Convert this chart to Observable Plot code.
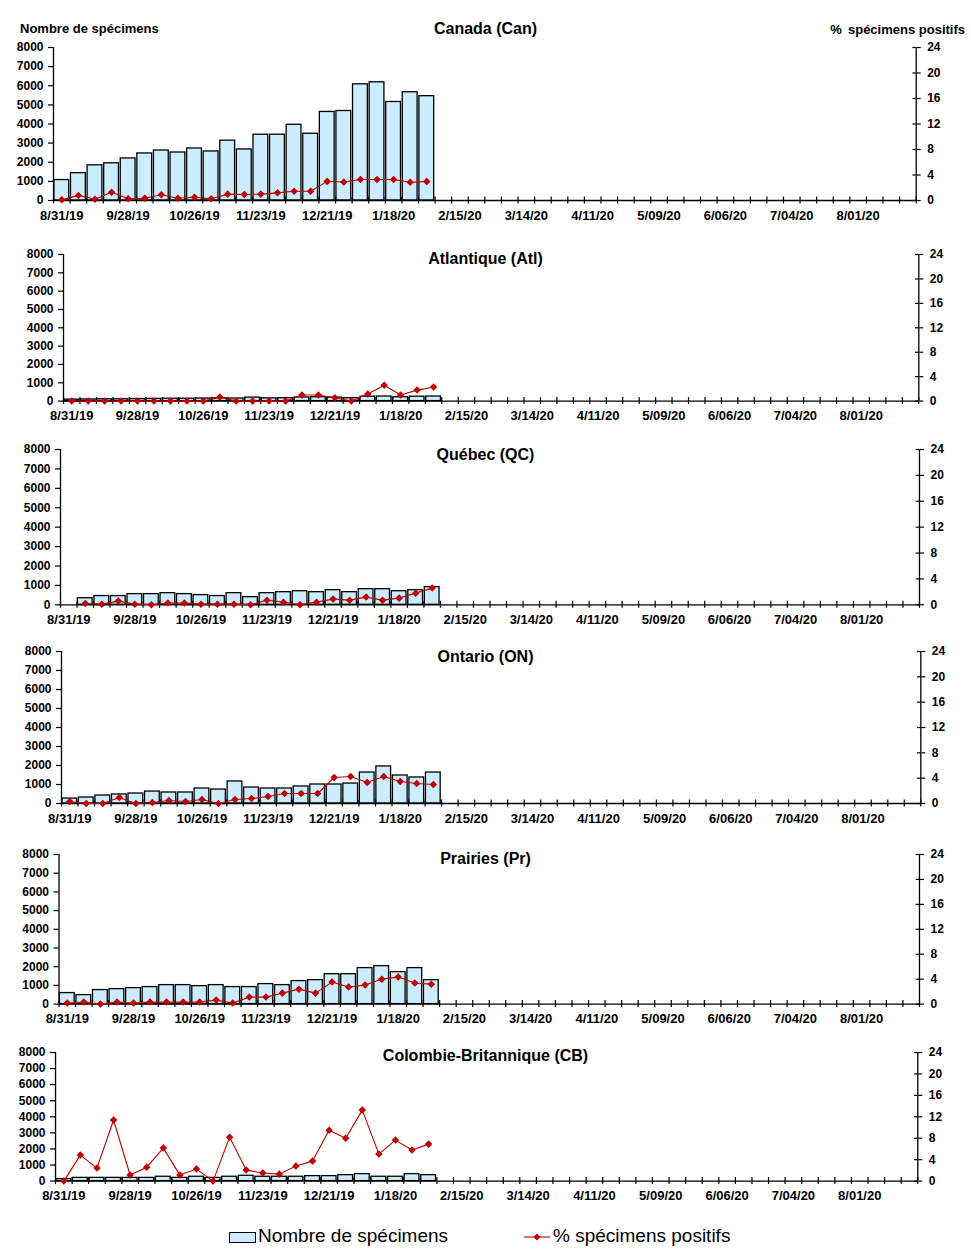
<!DOCTYPE html>
<html>
<head>
<meta charset="utf-8">
<script src="https://cdn.jsdelivr.net/npm/d3@7"></script>
<script src="https://cdn.jsdelivr.net/npm/@observablehq/plot@0.6"></script>
<style>
  html, body { margin: 0; padding: 0; background: #fff; }
  #root { position: relative; width: 971px; height: 1258px; font-family: "Liberation Sans", Arial, sans-serif; color: #000; }
  .abs { position: absolute; white-space: nowrap; }
  .title { left: 0; width: 971px; text-align: center; font-weight: bold; font-size: 16px; }
  .axlab { font-weight: bold; font-size: 13px; }
  .leg { font-size: 19px; }
</style>
</head>
<body>
<div id="root"></div>
<script>
// ---- Data ----
const nWeeks = 52;
const tickLabels = ["8/31/19","9/28/19","10/26/19","11/23/19","12/21/19","1/18/20","2/15/20","3/14/20","4/11/20","5/09/20","6/06/20","7/04/20","8/01/20"];
const pctTicks = [0, 4, 8, 12, 16, 20, 24];
const countTicks = [0, 1000, 2000, 3000, 4000, 5000, 6000, 7000, 8000];

const regionTitles = ["Canada (Can)", "Atlantique (Atl)", "Québec (QC)", "Ontario (ON)", "Prairies (Pr)", "Colombie-Britannique (CB)"];

const canCount = [1070,1430,1840,1945,2200,2460,2615,2510,2720,2565,3130,2670,3440,3440,3960,3490,4630,4680,6075,6180,5150,5660,5455];
const canPct   = [0.1,0.8,0.2,1.3,0.26,0.36,0.9,0.36,0.5,0.26,1.0,0.93,1.0,1.2,1.45,1.45,3.0,2.9,3.3,3.3,3.3,2.85,3.0];

const atlCount = [80,90,100,100,110,120,130,130,140,150,140,190,150,160,200,210,190,160,240,250,210,240,250];
const atlPct   = [0,0,0,0,0,0,0,0,0,0.65,0,0,0,0,1.0,1.0,0.55,0,1.15,2.6,1.0,1.8,2.3];

const qcCount = [null,340,450,450,550,550,600,550,500,450,600,395,600,650,700,650,755,650,805,805,700,755,910];
const qcPct   = [null,0.2,0.1,0.57,0.1,0,0.26,0.26,0.1,0.1,0.1,0,0.72,0.41,0,0.41,0.88,0.72,1.19,0.72,1.03,1.8,2.58];

const onCount = [260,315,420,475,525,630,580,580,790,735,1160,840,790,790,895,1000,1000,1050,1630,1950,1475,1370,1630];
const onPct   = [0.32,0,0,0.95,0,0.16,0.47,0.32,0.63,0,0.63,0.79,1.1,1.58,1.58,1.58,4.1,4.26,3.3,4.26,3.47,3.16,3.0];

const prCount = [590,480,750,800,855,910,1015,1015,960,1015,910,910,1070,1015,1230,1280,1600,1600,1925,2030,1710,1925,1280];
const prPct   = [0.16,0.32,0,0.32,0.16,0.32,0.32,0.32,0.32,0.64,0.16,1.12,1.12,1.76,2.4,1.76,3.53,2.73,3.05,4.0,4.33,3.37,3.2];

const cbCount = [125,200,200,200,200,200,270,200,270,200,270,330,270,270,270,310,310,370,435,270,270,435,370];
const cbPct   = [0,4.85,2.43,11.4,1.12,2.6,6.16,1.12,2.24,0,8.2,2.05,1.5,1.3,2.8,3.73,9.5,8.0,13.25,5.04,7.65,5.8,6.9];

// ---- Layout (pixel geometry of each panel) ----
const layout = [
  {top: 47,    bottom: 200,   left: 53, right: 915.7, titleY: 28},
  {top: 253.7, bottom: 400.3, left: 63, right: 918.3, titleY: 258},
  {top: 448.7, bottom: 604,   left: 60, right: 919,   titleY: 454},
  {top: 651.3, bottom: 803.3, left: 61, right: 920.3, titleY: 656},
  {top: 853.7, bottom: 1003.3,left: 58.5, right: 919, titleY: 858},
  {top: 1051.7,bottom: 1180.3,left: 55, right: 917.3, titleY: 1055}
];
const series = [[canCount, canPct],[atlCount, atlPct],[qcCount, qcPct],[onCount, onPct],[prCount, prPct],[cbCount, cbPct]];

const BAR_FILL = "#CCECFF";
const RED = "#C00000";
const K = 8000 / 24;
const diamond = {
  draw(ctx, size) {
    const r = Math.sqrt(size / 2);
    ctx.moveTo(0, -r); ctx.lineTo(r, 0); ctx.lineTo(0, r); ctx.lineTo(-r, 0); ctx.closePath();
  }
};

const root = document.getElementById("root");
const MT = 8, MB = 30;

function panel(g, counts, pcts) {
  const data = counts.map((c, i) => ({i, c, p: pcts[i]}));
  const bars = data.filter(d => d.c != null);
  const pts = data.filter(d => d.p != null);
  const h = g.bottom - g.top;
  const tk = 3.5 * 8000 / h;
  const slot = (g.right - g.left) / nWeeks;
  const font = {fontSize: 12, fontWeight: "bold", fontFamily: "Liberation Sans, Arial, sans-serif"};
  return Plot.plot({
    width: 971,
    height: h + MT + MB,
    marginTop: MT, marginBottom: MB,
    marginLeft: g.left, marginRight: 971 - g.right,
    x: {type: "linear", domain: [0, nWeeks]},
    y: {domain: [0, 8000]},
    style: {fontFamily: "Liberation Sans, Arial, sans-serif", background: "white", color: "black", overflow: "visible"},
    marks: [
      Plot.rectY(bars, {x1: d => d.i, x2: d => d.i + 1, y: "c", fill: BAR_FILL, stroke: "black", strokeWidth: 1.3, insetLeft: 0.9, insetRight: 0.9}),
      Plot.ruleY([0], {stroke: "black", strokeWidth: 1.3}),
      Plot.ruleX([0, nWeeks], {y1: 0, y2: 8000, stroke: "black", strokeWidth: 1.3}),
      Plot.ruleX(d3.range(nWeeks + 1), {y1: -tk, y2: tk, stroke: "black", strokeWidth: 1.2}),
      Plot.ruleY(pctTicks.map(p => p * K), {x1: nWeeks - 3.3 / slot, x2: nWeeks, stroke: "black", strokeWidth: 1.2}),
      Plot.axisX({
        ticks: tickLabels.map((_, j) => j * 4 + 0.5),
        tickFormat: v => tickLabels[Math.round((v - 0.5) / 4)],
        tickSize: 0, tickPadding: 10, label: null,
        ...font, fontSize: 13
      }),
      Plot.axisY({anchor: "left", ticks: countTicks, tickFormat: "d", tickSize: 5, tickPadding: 5, label: null, strokeWidth: 1.2, ...font}),
      Plot.axisY({anchor: "right", ticks: pctTicks.map(p => p * K), tickFormat: d => String(Math.round(d / K)), tickSize: 4, tickPadding: 7, label: null, strokeWidth: 1.2, ...font}),
      Plot.line(pts, {x: d => d.i + 0.5, y: d => d.p * K, stroke: RED, strokeWidth: 1.1}),
      Plot.dot(pts, {x: d => d.i + 0.5, y: d => d.p * K, symbol: diamond, r: 3, fill: RED, stroke: "none"})
    ]
  });
}

layout.forEach((g, k) => {
  const svg = panel(g, series[k][0], series[k][1]);
  const wrap = document.createElement("div");
  wrap.className = "abs";
  wrap.style.left = "0px";
  wrap.style.top = (g.top - MT) + "px";
  wrap.appendChild(svg);
  root.appendChild(wrap);
  const t = document.createElement("div");
  t.className = "abs title";
  t.textContent = regionTitles[k];
  t.style.top = (g.titleY - 8) + "px";
  root.appendChild(t);
});

// axis titles (top panel)
const yl = document.createElement("div");
yl.className = "abs axlab";
yl.textContent = "Nombre de spécimens";
yl.style.left = "20px"; yl.style.top = "21px";
root.appendChild(yl);
const yr = document.createElement("div");
yr.className = "abs axlab";
yr.innerHTML = "%&thinsp; spécimens positifs";
yr.style.right = "6px"; yr.style.top = "22px";
root.appendChild(yr);

// legend
const sw = document.createElement("div");
sw.className = "abs";
Object.assign(sw.style, {left: "229px", top: "1232px", width: "25px", height: "9px", background: BAR_FILL, border: "1px solid black"});
root.appendChild(sw);
const l1 = document.createElement("div");
l1.className = "abs leg";
l1.textContent = "Nombre de spécimens";
l1.style.left = "258px"; l1.style.top = "1225px";
root.appendChild(l1);
const ls = d3.create("svg").attr("width", 28).attr("height", 12)
  .style("position", "absolute").style("left", "524px").style("top", "1231px");
ls.append("line").attr("x1", 0).attr("x2", 26).attr("y1", 6).attr("y2", 6).attr("stroke", RED).attr("stroke-width", 1.1);
ls.append("path").attr("d", "M13,2.5L16.5,6L13,9.5L9.5,6Z").attr("fill", RED);
root.appendChild(ls.node());
const l2 = document.createElement("div");
l2.className = "abs leg";
l2.textContent = "% spécimens positifs";
l2.style.left = "553px"; l2.style.top = "1225px";
root.appendChild(l2);
</script>
</body>
</html>
